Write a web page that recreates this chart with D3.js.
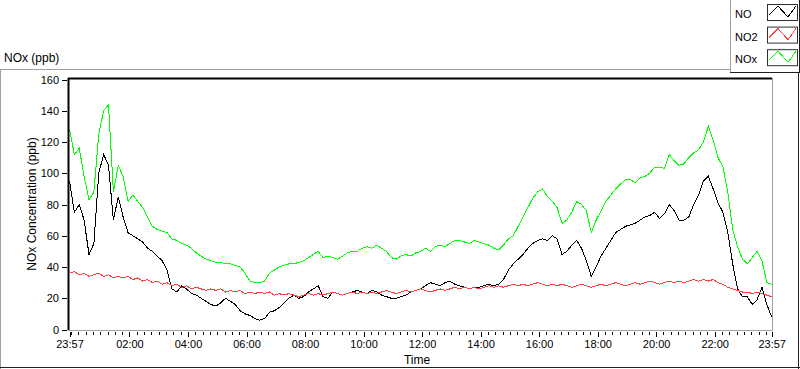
<!DOCTYPE html>
<html>
<head>
<meta charset="utf-8">
<script src="https://cdn.jsdelivr.net/npm/d3@7"></script>
<style>
  body { margin: 0; background: #fff; }
  svg text { font-family: "Liberation Sans", Arial, sans-serif; fill: #000; }
</style>
</head>
<body>
<div id="chart"></div>
<script>
// samples every 10 minutes from 23:57 to 23:57 next day
const startTime = new Date(2000, 0, 1, 23, 57);
const endTime = new Date(2000, 0, 2, 23, 57);
const stepMinutes = 10;

const noValues = [
  95, 75, 80, 70, 48, 55, 100, 112, 105, 70,
  85, 72, 62, 60, 58, 56, 52, 50, 47, 44,
  38, 26, 24, 28, 26, 23, 22, 20, 18, 16,
  15, 17, 20, 18, 16, 12, 10, 9, 7, 6,
  7, 11, 12, 14, 17, 20, 22, 20, 21, 24,
  26, 28, 21, 20, 24, 23, 22, 23, 24, 25,
  24, 23, 25, 24, 22, 21, 20, 20, 21, 22,
  24, 25, 26, 28, 30, 29, 28, 30, 31, 29,
  28, 27, 26, 27, 27, 28, 29, 28, 29, 32,
  38, 42, 45, 48, 52, 55, 57, 58, 57, 60,
  58, 48, 50, 54, 57, 52, 44, 34, 40, 47,
  52, 57, 62, 64, 66, 67, 68, 70, 72, 73,
  75, 71, 74, 80, 76, 70, 70, 72, 80, 86,
  95, 98, 90, 81, 75, 62, 42, 26, 21, 21,
  16, 19, 27, 16, 8
];

const no2Values = [
  36, 37, 35, 36, 34, 35, 36, 34, 35, 33,
  34, 33, 34, 32, 33, 31, 32, 30, 31, 29,
  30, 28, 29, 27, 28, 26, 27, 26, 25, 26,
  25, 26, 24, 25, 24, 25, 23, 24, 23, 24,
  23, 24, 22, 23, 22, 23, 22, 21, 22, 23,
  22, 23, 22, 23, 24, 23, 22, 23, 24, 23,
  24, 23, 24, 23, 24, 25, 24, 23, 24, 25,
  24, 25, 26, 25, 24, 25, 26, 25, 26, 27,
  26, 27, 26, 27, 26, 27, 28, 27, 28, 27,
  28, 29, 28, 29, 28, 29, 30, 29, 28, 29,
  28, 29, 28, 27, 28, 29, 28, 27, 28, 29,
  28, 29, 30, 29, 28, 29, 30, 29, 30, 31,
  30, 29, 30, 31, 30, 31, 30, 31, 32, 31,
  32, 31, 32, 30, 29, 27, 26, 25, 24, 24,
  23, 24, 23, 22, 21
];

const noxValues = [
  128, 112, 116, 98, 83, 88, 125, 140, 144, 88,
  105, 98, 82, 86, 82, 78, 72, 66, 64, 63,
  62, 58, 57, 55, 54, 52, 49, 47, 45, 44,
  43, 43, 42, 42, 41, 40, 36, 31, 30, 30,
  31, 36, 38, 40, 41, 42, 42, 43, 44, 46,
  48, 50, 46, 47, 46, 45, 47, 49, 50, 50,
  52, 53, 52, 54, 52, 50, 46, 45, 47, 48,
  47, 49, 50, 52, 50, 53, 54, 53, 55, 57,
  57, 56, 55, 57, 56, 55, 54, 52, 51, 54,
  58, 60, 66, 72, 78, 84, 88, 90, 85, 82,
  78, 68, 70, 75, 82, 80, 76, 62, 70, 76,
  82, 86, 90, 93, 96, 96, 94, 97, 98, 100,
  104, 104, 103, 112, 108, 105, 106, 110, 113, 115,
  120, 130, 121, 110, 104, 88, 64, 53, 45, 42,
  46, 50, 44, 30, 29
];

const seriesNames = ["NO", "NO2", "NOx"];
const seriesColors = ["#000000", "#ff4040", "#00ff00"];
const yTicks = [0, 20, 40, 60, 80, 100, 120, 140, 160];
const xTickLabels = ["23:57", "02:00", "04:00", "06:00", "08:00", "10:00",
                     "12:00", "14:00", "16:00", "18:00", "20:00", "22:00", "23:57"];

const width = 800, height = 369;
const plot = { left: 68, top: 78, right: 772, bottom: 330 };

const svg = d3.select('#chart')
  .append('svg')
  .attr('width', width)
  .attr('height', height);

const x = d3.scaleTime()
  .domain([startTime, endTime])
  .range([69.5, 771.7]);

const y = d3.scaleLinear()
  .domain([0, 160])
  .range([329.5, 79.5]);

const toTime = i => new Date(startTime.getTime() + i * stepMinutes * 60000);

// outer panel frame
const frame = svg.append('g');
frame.append('line').attr('x1', 0).attr('x2', 730).attr('y1', 69.5).attr('y2', 69.5).attr('stroke', '#a0a0a0');
frame.append('line').attr('x1', 0.5).attr('x2', 0.5).attr('y1', 69).attr('y2', 369).attr('stroke', '#a0a0a0');
frame.append('line').attr('x1', 0).attr('x2', 800).attr('y1', 367.5).attr('y2', 367.5).attr('stroke', '#202020');
frame.append('line').attr('x1', 798.5).attr('x2', 798.5).attr('y1', 72).attr('y2', 369).attr('stroke', '#202020');

// chart title
svg.append('text')
  .attr('x', 4)
  .attr('y', 62)
  .style('font-size', '12px')
  .text('NOx (ppb)');

// series lines
const line = d3.line()
  .x((d, i) => x(toTime(i)))
  .y(d => y(d));

[noValues, no2Values, noxValues].forEach((vals, k) => {
  svg.append('path')
    .datum(vals)
    .attr('fill', 'none')
    .attr('stroke', seriesColors[k])
    .attr('stroke-width', 1)
    .attr('shape-rendering', 'crispEdges')
    .attr('d', line);
});

// plot border: dark top/left, grey bottom/right
svg.append('line').attr('x1', plot.left).attr('x2', plot.right).attr('y1', plot.top + 0.5).attr('y2', plot.top + 0.5).attr('stroke', '#000').attr('stroke-width', 2);
svg.append('line').attr('x1', plot.left + 0.5).attr('x2', plot.left + 0.5).attr('y1', plot.top).attr('y2', plot.bottom).attr('stroke', '#000').attr('stroke-width', 2);
svg.append('line').attr('x1', plot.left).attr('x2', plot.right + 1).attr('y1', plot.bottom + 0.5).attr('y2', plot.bottom + 0.5).attr('stroke', '#a0a0a0');
svg.append('line').attr('x1', plot.right + 0.5).attr('x2', plot.right + 0.5).attr('y1', plot.top).attr('y2', plot.bottom).attr('stroke', '#a0a0a0');

// y axis
const yAxis = svg.append('g')
  .attr('transform', 'translate(67,0)')
  .call(d3.axisLeft(y).tickValues(yTicks).tickSize(5).tickPadding(3));
yAxis.select('.domain').remove();
yAxis.selectAll('text').style('font-size', '11px').style('font-family', '"Liberation Sans", Arial, sans-serif');

// x axis: major ticks with labels, minor every 15 min
const majorTicks = [startTime].concat(d3.timeHour.every(2).range(new Date(2000, 0, 2, 2, 0), new Date(2000, 0, 2, 23, 0)), [endTime]);
const minorTicks = d3.timeMinute.every(15).range(new Date(2000, 0, 2, 0, 0), endTime);

const xMinor = svg.append('g')
  .attr('transform', 'translate(0,332)')
  .call(d3.axisBottom(x).tickValues(minorTicks).tickSize(3).tickFormat(''));
xMinor.select('.domain').remove();

const xAxis = svg.append('g')
  .attr('transform', 'translate(0,332)')
  .call(d3.axisBottom(x).tickValues(majorTicks).tickSize(5).tickPadding(3)
    .tickFormat((d, i) => xTickLabels[i]));
xAxis.select('.domain').remove();
xAxis.selectAll('text').style('font-size', '11px').style('font-family', '"Liberation Sans", Arial, sans-serif');
svg.selectAll('.tick line').attr('shape-rendering', 'crispEdges');

// axis titles
svg.append('text')
  .attr('x', 417)
  .attr('y', 364)
  .attr('text-anchor', 'middle')
  .style('font-size', '12px')
  .text('Time');

svg.append('text')
  .attr('transform', `translate(36,${(plot.top + plot.bottom) / 2}) rotate(-90)`)
  .attr('text-anchor', 'middle')
  .style('font-size', '12px')
  .text('NOx Concentration (ppb)');

// legend
const legend = svg.append('g');
legend.append('line').attr('x1', 730.5).attr('x2', 730.5).attr('y1', 0).attr('y2', 72).attr('stroke', '#a0a0a0');
legend.append('line').attr('x1', 730).attr('x2', 800).attr('y1', 72.5).attr('y2', 72.5).attr('stroke', '#202020');
legend.append('line').attr('x1', 799.5).attr('x2', 799.5).attr('y1', 0).attr('y2', 73).attr('stroke', '#202020');

const entry = legend.selectAll('g.entry')
  .data(seriesNames)
  .enter()
  .append('g')
  .attr('class', 'entry')
  .attr('transform', (d, i) => `translate(0,${i * 22.6})`);

entry.append('text')
  .attr('x', 735)
  .attr('y', 18)
  .style('font-size', '11px')
  .text(d => d);

entry.append('rect')
  .attr('x', 767.5)
  .attr('y', 4.5)
  .attr('width', 30)
  .attr('height', 16)
  .attr('fill', '#fff')
  .attr('stroke', '#303030');

entry.append('polyline')
  .attr('points', '769,15 778,6 788,17 796,6')
  .attr('fill', 'none')
  .attr('stroke', (d, i) => seriesColors[i])
  .attr('shape-rendering', 'crispEdges');
</script>
</body>
</html>
